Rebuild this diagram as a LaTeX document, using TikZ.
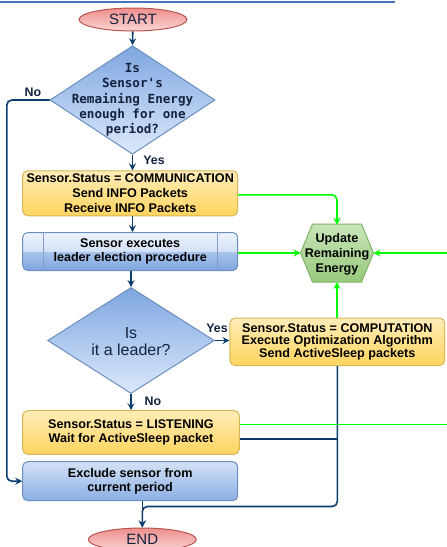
\documentclass[tikz,border=0pt]{standalone}
\usepackage{fontspec}
\setmainfont{Liberation Sans}
\newfontfamily\monof{DejaVu Sans Mono}
\usetikzlibrary{shapes.geometric,arrows.meta,calc}
\definecolor{cnavy}{HTML}{0B3D6E}
\definecolor{tnavy}{HTML}{15233F}
\definecolor{cgreen}{HTML}{00FF00}
\definecolor{ytop}{HTML}{FFEDB8}
\definecolor{ybot}{HTML}{FFD45E}
\definecolor{yedge}{HTML}{D6B656}
\definecolor{bedge}{HTML}{6C8EBF}
\definecolor{bT}{HTML}{EEF4FD}
\definecolor{bL}{HTML}{D3E1F6}
\definecolor{bM}{HTML}{A9C4EB}
\definecolor{bB}{HTML}{7EA6E0}
\definecolor{dtop}{HTML}{7EA6E0}
\definecolor{dbot}{HTML}{DCE9FC}
\definecolor{gtop}{HTML}{C9E5B9}
\definecolor{gbot}{HTML}{97C97B}
\definecolor{gedge}{HTML}{82B366}
\definecolor{rtop}{HTML}{EE8F8C}
\definecolor{rbot}{HTML}{FAD6D5}
\definecolor{redge}{HTML}{B85450}
\definecolor{topline}{HTML}{4472C4}
\pgfdeclareverticalshading{bluegloss}{100bp}{color(0bp)=(bB); color(25bp)=(bB); color(49.5bp)=(bM); color(50.5bp)=(bL); color(75bp)=(bT); color(100bp)=(bT)}
\tikzset{
  conn/.style={draw=cnavy, line width=1.6pt, rounded corners=5pt, -{Stealth[length=7pt,width=7pt,inset=2.5pt]}},
  cline/.style={draw=cnavy, line width=1.6pt, rounded corners=5pt},
  gconn/.style={draw=cgreen, line width=1.6pt, rounded corners=5pt, -{Stealth[length=7pt,width=7pt,inset=2.5pt]}},
  gline/.style={draw=cgreen, line width=1.6pt},
  boxtxt/.style={font=\bfseries\fontsize{12.6}{15}\selectfont, align=center, text=black},
  ybox/.style={boxtxt, rectangle, rounded corners=5pt, draw=yedge, line width=1pt, top color=ytop, bottom color=ybot, inner sep=0pt},
  gbox/.style={boxtxt, rectangle, rounded corners=5pt, draw=bedge, line width=1pt, shading=bluegloss, inner sep=0pt},
  bbox/.style={boxtxt, rectangle, rounded corners=5pt, draw=bedge, line width=1pt, top color=bL, bottom color=bB!90, inner sep=0pt},
  dia/.style={diamond, draw=bedge, line width=1pt, top color=dtop, bottom color=dbot, inner sep=0pt},
  ell/.style={ellipse, draw=redge, line width=1pt, top color=rtop, bottom color=rbot, inner sep=0pt, minimum width=108pt, minimum height=23pt, text=tnavy, font=\fontsize{15}{17}\selectfont},
  lbl/.style={font=\bfseries\fontsize{12.4}{14}\selectfont, text=tnavy, inner sep=0pt},
}
\begin{document}
\begin{tikzpicture}[x=1pt,y=-1pt]
\useasboundingbox (0,0) rectangle (447,547);
\draw[topline, line width=1.5pt] (0,2) -- (395,2);
% nodes
\node[ell] (start) at (133,19.5) {START};
\node[dia, minimum width=165pt, minimum height=108.6pt] (q1) at (132.5,100) {};
\node[font=\monof\bfseries\fontsize{12.6}{15.3}\selectfont, text=tnavy, align=center, inner sep=0pt] (q1t) at (132.5,100) {Is\\Sensor's\\Remaining Energy\\enough for one\\period?};
\node[ybox, minimum width=215pt, minimum height=45pt] (comm) at (130.2,193.3) {Sensor.Status = COMMUNICATION\\Send INFO Packets\\Receive INFO Packets};
\node[gbox, minimum width=215pt, minimum height=38pt, font=\bfseries\fontsize{12.6}{14.4}\selectfont] (elect) at (130.2,251.5) {Sensor executes\\leader election procedure};
\draw[bedge!85, line width=0.8pt] ($(elect.north west)+(21,0)$) -- ($(elect.south west)+(21,0)$);
\draw[bedge!85, line width=0.8pt] ($(elect.north east)+(-21,0)$) -- ($(elect.south east)+(-21,0)$);
\node[dia, minimum width=166.7pt, minimum height=106pt] (q2) at (131,340.5) {};
\node[font=\fontsize{16}{17.7}\selectfont, text=tnavy, align=center, inner sep=0pt] (q2t) at (131,341.5) {Is\\it a leader?};
\node[ybox, minimum width=214.7pt, minimum height=47.5pt, font=\bfseries\fontsize{12.6}{12.8}\selectfont] (comp) at (337.3,341.8) {Sensor.Status = COMPUTATION\\Execute Optimization Algorithm\\Send ActiveSleep packets};
\node[ybox, minimum width=216.6pt, minimum height=43.6pt, font=\bfseries\fontsize{12.6}{13.3}\selectfont] (listen) at (131,432.5) {Sensor.Status = LISTENING\\Wait for ActiveSleep packet};
\node[bbox, minimum width=215pt, minimum height=39pt, font=\bfseries\fontsize{12.6}{14.3}\selectfont] (excl) at (130.2,481.2) {Exclude sensor from\\current period};
\node[ell] (endn) at (142.3,539.5) {END};
% hexagon
\coordinate (hexc) at (337,253);
\shadedraw[top color=gtop, bottom color=gbot, draw=gedge, line width=1pt] ($(hexc)+(-36.5,0)$) -- ($(hexc)+(-24.5,-29)$) -- ($(hexc)+(24.5,-29)$) -- ($(hexc)+(36.5,0)$) -- ($(hexc)+(24.5,29)$) -- ($(hexc)+(-24.5,29)$) -- cycle;
\node[boxtxt, minimum width=73pt, minimum height=58pt, inner sep=0pt] (upd) at (337,254) {Update\\Remaining\\Energy};
% labels
\node[lbl] (lyes1) at (154,160) {Yes};
\node[lbl] (lno1) at (33,92) {No};
\node[lbl] (lyes2) at (217,328) {Yes};
\node[lbl] (lno2) at (153,401.7) {No};
% free ends
\coordinate (rin) at (447,253);
\coordinate (rout) at (447,424.3);
\coordinate (lj) at ($(listen.east)+(0,6.5)$);
\coordinate (lg) at ($(listen.east)+(0,-8.2)$);
% connectors
\draw[conn] (start) -- (q1.north);
\draw[conn] (q1.south) -- (q1.south |- comm.north);
\draw[conn] (comm.south -| q1.south) -- (elect.north -| q1.south);
\draw[conn] (elect.south -| q2.north) -- (q2.north);
\draw[conn] (q2.south) -- (q2.south |- listen.north);
\draw[conn] (q2.east) -- (q2.east -| comp.west);
\draw[conn] (q1.west) -- ++(-42.7,0) |- (excl.west);
\draw[conn] (excl.south -| endn.north) -- (endn.north);
\draw[conn] (comp.south) |- ($(endn.north)+(0,-21)$) -- (endn.north);
\draw[cline] (lj) -- (lj -| comp.south);
\draw[gconn] ($(comm.east)+(0,1.5)$) -| (hexc |- upd.north);
\draw[gconn] (elect.east |- hexc) -- ($(hexc)+(-36.5,0)$);
\draw[gconn] (rin) -- ($(hexc)+(36.5,0)$);
\draw[gconn] (comp.north -| hexc) -- ($(hexc)+(0,29)$);
\draw[gline] (lg) -- (rout);
\end{tikzpicture}
\end{document}
